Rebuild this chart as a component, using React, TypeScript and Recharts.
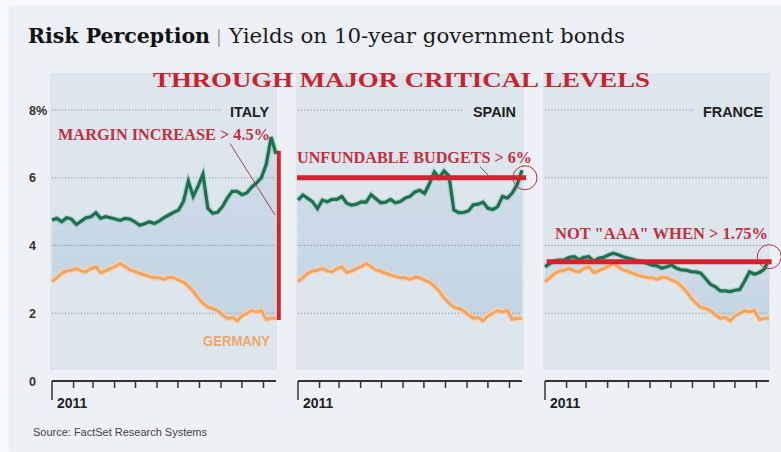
import React from 'react';
import { ComposedChart, Line, Area, XAxis, YAxis, ReferenceLine, ReferenceDot } from 'recharts';

// day of year 2011 (weekly observations)
const days = [0, 7, 14, 21, 28, 35, 42, 49, 56, 63, 70, 77, 84, 91, 98, 105, 112, 119, 126, 133, 140, 147, 154, 161, 168, 175, 182, 189, 196, 203, 210, 217, 224, 231, 238, 245, 252, 259, 266, 273, 280, 287, 294, 301, 308, 315, 322];
const monthTicks = [0, 31, 59, 90, 120, 151, 181, 212, 243, 273, 304];
const yTicks = [0, 2, 4, 6, 8];
const gridValues = [2, 4, 6, 8];

const italy = [4.75, 4.8, 4.7, 4.82, 4.78, 4.62, 4.72, 4.82, 4.85, 4.97,
  4.8, 4.85, 4.82, 4.78, 4.74, 4.8, 4.78, 4.7, 4.6, 4.64,
  4.7, 4.65, 4.72, 4.82, 4.9, 4.98, 5.05, 5.3, 5.9, 5.45,
  5.75, 6.1, 5.1, 4.95, 4.98, 5.15, 5.4, 5.6, 5.6, 5.5,
  5.55, 5.72, 5.85, 6.0, 6.4, 7.2, 6.7];
const spain = [5.34, 5.49, 5.39, 5.29, 5.09, 5.34, 5.29, 5.36, 5.36, 5.45,
  5.25, 5.19, 5.22, 5.29, 5.28, 5.5, 5.38, 5.26, 5.28, 5.36,
  5.26, 5.3, 5.4, 5.45, 5.58, 5.63, 5.54, 5.83, 6.17, 6.0,
  6.2, 6.05, 5.05, 4.97, 4.98, 5.02, 5.2, 5.22, 5.28, 5.1,
  5.06, 5.15, 5.45, 5.4, 5.55, 5.8, 6.22];
const france = [3.37, 3.47, 3.55, 3.57, 3.58, 3.65, 3.67, 3.58, 3.65, 3.67,
  3.54, 3.62, 3.65, 3.72, 3.77, 3.73, 3.67, 3.63, 3.59, 3.55,
  3.52, 3.47, 3.42, 3.4, 3.33, 3.37, 3.42, 3.33, 3.28, 3.27,
  3.23, 3.22, 3.18, 3.02, 2.85, 2.78, 2.66, 2.66, 2.64, 2.68,
  2.7, 2.95, 3.22, 3.15, 3.2, 3.3, 3.58];
const germany = [2.93, 3.05, 3.18, 3.25, 3.27, 3.32, 3.25, 3.22, 3.32, 3.37,
  3.2, 3.25, 3.32, 3.38, 3.47, 3.38, 3.28, 3.24, 3.18, 3.13,
  3.09, 3.05, 3.05, 3.0, 3.06, 3.05, 2.98, 2.92, 2.8, 2.65,
  2.45, 2.3, 2.18, 2.14, 2.08, 1.95, 1.85, 1.88, 1.78, 1.92,
  2.0, 2.08, 2.04, 2.08, 1.82, 1.85, 1.85];

const countryNames = ['ITALY', 'SPAIN', 'FRANCE'];

const GREEN = '#1d7050';
const ORANGE = '#f0a665';
const RED = '#d4232f';
const TEXT_RED = '#c42f3d';
const PANEL = '#dde5ed';
const CARD = '#edf1f5';

const build = (vals: number[]) =>
  days.map((d, i) => ({ day: d, country: vals[i], germany: germany[i], band: [germany[i], vals[i]] }));

const XTick = (props: any) => {
  const { x, y, index } = props;
  const first = index === 0;
  return (
    <g>
      <line x1={x} y1={y} x2={x} y2={y + (first ? 19 : 7)} stroke="#333" strokeWidth={1.5} />
      {first && (
        <text x={x + 5} y={y + 27} fontFamily="Liberation Sans" fontWeight={700} fontSize={14} fill="#222">
          2011
        </text>
      )}
    </g>
  );
};

const YTick = (props: any) => {
  const { y, payload } = props;
  return (
    <text x={29} y={y + 4.5} fontFamily="Liberation Sans" fontWeight={700} fontSize={12.5} fill="#333">
      {payload.value === 8 ? '8%' : String(payload.value)}
    </text>
  );
};

type PanelProps = {
  id: string;
  vals: number[];
  left: number;
  width: number;
  mLeft: number;
  mRight: number;
  showY: boolean;
  children?: React.ReactNode;
};

const Panel = ({ id, vals, left, width, mLeft, mRight, showY, children }: PanelProps) => (
  <div style={{ position: 'absolute', left, top: 0 }}>
    <ComposedChart width={width} height={420} data={build(vals)} margin={{ top: 110, right: mRight, bottom: 0, left: mLeft }}>
      <defs>
        <linearGradient id={`band-${id}`} x1="0" y1="0" x2="0" y2="1">
          <stop offset="0%" stopColor="#c7d8e6" />
          <stop offset="100%" stopColor="#b4c9db" />
        </linearGradient>
      </defs>
      <XAxis
        dataKey="day"
        type="number"
        domain={[0, 322]}
        ticks={monthTicks}
        interval={0}
        height={39}
        tickSize={0}
        tickMargin={0}
        tickLine={false}
        axisLine={{ stroke: '#333', strokeWidth: 2 }}
        tick={<XTick />}
      />
      <YAxis
        type="number"
        domain={[0, 8]}
        ticks={yTicks}
        width={22}
        hide={!showY}
        axisLine={false}
        tickLine={false}
        tick={<YTick />}
      />
      <Area dataKey="band" stroke="none" fill={`url(#band-${id})`} isAnimationActive={false} />
      {gridValues.map((g) => (
        <ReferenceLine key={g} y={g} stroke="#8693a1" strokeDasharray="1.2 2" strokeWidth={1} />
      ))}
      <Line dataKey="germany" stroke="#f8d3ae" strokeWidth={5.5} dot={false} isAnimationActive={false} />
      <Line dataKey="germany" stroke={ORANGE} strokeWidth={3} dot={false} isAnimationActive={false} />
      <Line dataKey="country" stroke="#8fc7ae" strokeWidth={5.5} strokeOpacity={0.55} dot={false} isAnimationActive={false} />
      <Line dataKey="country" stroke={GREEN} strokeWidth={3.2} dot={false} isAnimationActive={false} />
      {children}
    </ComposedChart>
  </div>
);

export default function App() {
  return (
    <div style={{ position: 'absolute', left: 0, top: 0, width: 781, height: 452, background: '#f7f8fa', overflow: 'hidden' }}>
      <div style={{ position: 'absolute', left: 10, top: 7, width: 771, height: 445, background: CARD, boxShadow: '0 0 4px rgba(0,0,0,0.08)' }} />
      {/* panel backgrounds */}
      <div style={{ position: 'absolute', left: 50, top: 73, width: 227, height: 297, background: PANEL }} />
      <div style={{ position: 'absolute', left: 296, top: 73, width: 228, height: 297, background: PANEL }} />
      <div style={{ position: 'absolute', left: 543, top: 73, width: 227, height: 297, background: PANEL }} />

      <Panel id="it" vals={italy} left={0} width={290} mLeft={30} mRight={14} showY={true}>
        <ReferenceLine
          segment={[{ x: 256, y: 7.01 }, { x: 320.6, y: 4.9 }]}
          stroke="#a8404e"
          strokeWidth={1}
          ifOverflow="visible"
        />
        <ReferenceLine
          segment={[{ x: 326, y: 6.8 }, { x: 326, y: 1.8 }]}
          stroke={RED}
          strokeWidth={4}
          ifOverflow="visible"
        />
      </Panel>
      <Panel id="es" vals={spain} left={250} width={290} mLeft={48} mRight={18} showY={false}>
        <ReferenceLine
          segment={[{ x: -1.4, y: 6 }, { x: 327.8, y: 6 }]}
          stroke={RED}
          strokeWidth={5}
          ifOverflow="visible"
        />
        <ReferenceLine
          segment={[{ x: 261.6, y: 6.32 }, { x: 273.6, y: 6.08 }]}
          stroke="#555"
          strokeWidth={1}
          ifOverflow="visible"
        />
        <ReferenceDot x={326.3} y={6} r={12} fill="none" stroke="#b8303c" strokeWidth={1} ifOverflow="visible" />
      </Panel>
      <Panel id="fr" vals={france} left={500} width={281} mLeft={45} mRight={12} showY={false}>
        <ReferenceLine
          segment={[{ x: 2.4, y: 3.52 }, { x: 325.9, y: 3.52 }]}
          stroke={RED}
          strokeWidth={5}
          ifOverflow="visible"
        />
        <ReferenceDot x={322.4} y={3.67} r={12} fill="none" stroke="#b8303c" strokeWidth={1} ifOverflow="visible" />
      </Panel>

      <svg width={781} height={452} style={{ position: 'absolute', left: 0, top: 0, pointerEvents: 'none' }}>
        <text x={28} y={43} fontFamily="DejaVu Serif" fontWeight={700} fontSize={20} fill="#111" textLength={182} lengthAdjust="spacingAndGlyphs">
          Risk Perception
        </text>
        <text x={216} y={43} fontFamily="DejaVu Sans" fontSize={17} fill="#9a9a9a">|</text>
        <text x={229} y={43} fontFamily="DejaVu Serif" fontSize={19.5} fill="#1a1a1a" textLength={396} lengthAdjust="spacingAndGlyphs">
          Yields on 10-year government bonds
        </text>
        <text x={153} y={87} fontFamily="Liberation Serif" fontWeight={700} fontSize={21} fill="#c8232f" textLength={497} lengthAdjust="spacingAndGlyphs">
          THROUGH MAJOR CRITICAL LEVELS
        </text>

        <rect x={221} y={104} width={54} height={14} fill={PANEL} />
        <rect x={464} y={104} width={58} height={14} fill={PANEL} />
        <rect x={695} y={104} width={73} height={14} fill={PANEL} />
        <text x={230} y={116.5} fontFamily="Liberation Sans" fontWeight={700} fontSize={14} fill="#1e1e1e" textLength={39} lengthAdjust="spacingAndGlyphs">{countryNames[0]}</text>
        <text x={473} y={116.5} fontFamily="Liberation Sans" fontWeight={700} fontSize={14} fill="#1e1e1e" textLength={43} lengthAdjust="spacingAndGlyphs">{countryNames[1]}</text>
        <text x={703} y={116.5} fontFamily="Liberation Sans" fontWeight={700} fontSize={14} fill="#1e1e1e" textLength={60} lengthAdjust="spacingAndGlyphs">{countryNames[2]}</text>

        <text x={58} y={139.5} fontFamily="Liberation Serif" fontWeight={700} fontSize={16} fill={TEXT_RED} textLength={212} lengthAdjust="spacingAndGlyphs">
          MARGIN INCREASE &gt; 4.5%
        </text>
        <text x={297} y={162.5} fontFamily="Liberation Serif" fontWeight={700} fontSize={16} fill={TEXT_RED} textLength={235} lengthAdjust="spacingAndGlyphs">
          UNFUNDABLE BUDGETS &gt; 6%
        </text>
        <text x={555} y={239} fontFamily="Liberation Serif" fontWeight={700} fontSize={17} fill={TEXT_RED} textLength={213} lengthAdjust="spacingAndGlyphs">
          NOT "AAA" WHEN &gt; 1.75%
        </text>

        <text x={203} y={346} fontFamily="Liberation Sans" fontWeight={700} fontSize={14} fill="#eda86a" textLength={67} lengthAdjust="spacingAndGlyphs">
          GERMANY
        </text>
        <text x={33} y={436} fontFamily="Liberation Sans" fontSize={10} fill="#444" textLength={174} lengthAdjust="spacingAndGlyphs">
          Source: FactSet Research Systems
        </text>
      </svg>
    </div>
  );
}
